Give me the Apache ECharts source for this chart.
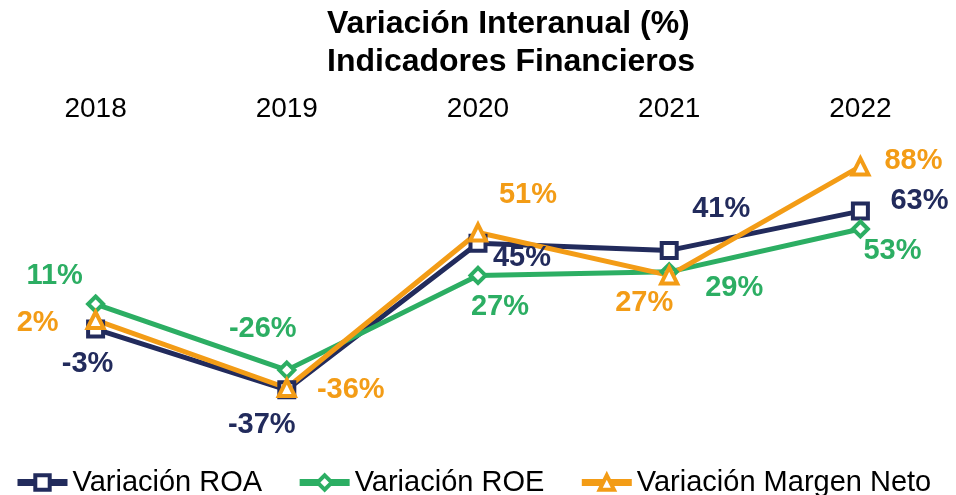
<!DOCTYPE html>
<html lang="es">
<head>
    <meta charset="utf-8">
    <title>Variación Interanual</title>
    <script src="https://cdn.jsdelivr.net/npm/echarts@6.0.0/dist/echarts.min.js"></script>
    <style>
        html, body { margin: 0; padding: 0; background: #fff; }
        #chart { width: 956px; height: 495px; }
    </style>
</head>
<body>
    <div id="chart"></div>
    <script>
        // Data
        const years = ['2018', '2019', '2020', '2021', '2022'];
        const roa = [-3, -37, 45, 41, 63];
        const roe = [11, -26, 27, 29, 53];
        const margen = [2, -36, 51, 27, 88];

        // label offsets (px from the point), per series
        const roaOffsets = [[-8, 35], [-25, 35], [44, 15], [52, -41], [59, -10]];
        const roeOffsets = [[-41, -28], [-24, -41], [22, 32], [65, 16], [32, 22]];
        const margenOffsets = [[-58, 3], [64, 2], [50, -38], [-25, 28], [53, -5]];

        const NAVY = '#222b5c';
        const GREEN = '#2cae63';
        const ORANGE = '#f39c16';
        const FONT = "'Liberation Sans', Arial, sans-serif";

        function makeSeries(name, values, offsets, color, symbol, size) {
            return {
                name: name,
                type: 'line',
                data: values.map(function (v, i) {
                    return {
                        value: v,
                        label: { offset: offsets[i] }
                    };
                }),
                symbol: symbol,
                symbolSize: size,
                lineStyle: { color: color, width: 5 },
                itemStyle: { color: '#fff', borderColor: color, borderWidth: 4 },
                label: {
                    show: true,
                    position: 'inside',
                    formatter: '{c}%',
                    color: color,
                    fontFamily: FONT,
                    fontWeight: 'bold',
                    fontSize: 29
                },
                emphasis: { disabled: true },
                z: 2
            };
        }

        const chart = echarts.init(document.getElementById('chart'));
        chart.setOption({
            animation: false,
            title: {
                text: 'Variación Interanual (%)\nIndicadores Financieros',
                left: 322,
                top: 0,
                textStyle: {
                    fontFamily: FONT,
                    fontWeight: 'bold',
                    fontSize: 32,
                    lineHeight: 38,
                    color: '#000',
                    align: 'center'
                }
            },
            legend: {
                left: 9,
                top: 463,
                itemWidth: 50,
                itemHeight: 18,
                itemGap: 34,
                lineStyle: { width: 7 },
                itemStyle: { borderWidth: 4 },
                textStyle: { fontFamily: FONT, fontSize: 29, color: '#000' },
                data: ['Variación ROA', 'Variación ROE', 'Variación Margen Neto']
            },
            grid: { left: 0, right: 0, top: 145, bottom: 82 },
            xAxis: {
                type: 'category',
                position: 'top',
                data: years,
                axisLine: { show: false },
                axisTick: { show: false },
                axisLabel: {
                    fontFamily: FONT,
                    fontSize: 28,
                    color: '#000',
                    margin: 22
                }
            },
            yAxis: {
                type: 'value',
                min: -50,
                max: 100,
                show: false,
                splitLine: { show: false }
            },
            series: [
                makeSeries('Variación ROA', roa, roaOffsets, NAVY, 'rect', 15),
                makeSeries('Variación ROE', roe, roeOffsets, GREEN, 'diamond', 15),
                makeSeries('Variación Margen Neto', margen, margenOffsets, ORANGE, 'triangle', 16)
            ]
        });
    </script>
</body>
</html>
